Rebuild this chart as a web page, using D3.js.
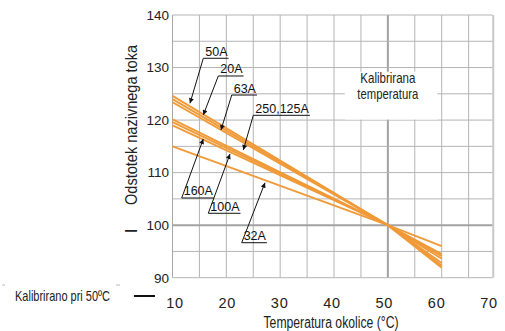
<!DOCTYPE html>
<html><head><meta charset="utf-8">
<script src="https://cdn.jsdelivr.net/npm/d3@7/dist/d3.min.js"></script>
<style>
html,body{margin:0;padding:0;background:#fff;}
svg{display:block;}
.cond{font-family:"Liberation Sans",Arial,sans-serif;}
.num{font-family:"Liberation Sans",Arial,sans-serif;}
</style></head>
<body>
<script>
// ---- data ----
const temps = [10, 50, 60];
const seriesNames = ["50A", "20A", "63A", "250,125A", "160A", "100A", "32A"];
const v50A  = [124.6, 100, 91.9];
const v20A  = [124.0, 100, 92.3];
const v63A  = [123.4, 100, 92.8];
const v250A = [120.15, 100, 93.6];
const v160A = [119.6, 100, 94.5];
const v100A = [119.0, 100, 94.1];
const v32A  = [115.0, 100, 96.0];
const seriesValues = [v50A, v20A, v63A, v250A, v160A, v100A, v32A];

const xTicks = [10, 20, 30, 40, 50, 60, 70];
const yTicks = [90, 100, 110, 120, 130, 140];

// annotation labels (data coordinates): underline anchor and arrow tip
const annLabels  = ["50A", "20A", "63A", "250,125A", "160A", "100A", "32A"];
const annAnchorX = [15.72, 18.51, 21.0, 25.01, 11.71, 16.65, 22.85];
const annAnchorY = [131.76, 128.39, 124.77, 120.91, 105.17, 102.26, 96.66];
const annTipX    = [13.25, 15.72, 19.01, 23.15, 15.72, 20.68, 27.18];
const annTipY    = [123.19, 120.97, 118.11, 114.31, 116.4, 113.54, 108.08];

const W = 505, H = 331;
const svg = d3.select("body").append("svg").attr("width", W).attr("height", H);

const x = d3.scaleLinear().domain([10, 60]).range([172.5, 441.7]);
const xLab = d3.scaleLinear().domain([10, 70]).range([175, 489]);
const y = d3.scaleLinear().domain([90, 140]).range([277.7, 15]);
const xRight = 69.48;

// grid
const g = svg.append("g");
const vGrid = d3.range(15, 70, 5);
g.selectAll("line.vg").data(vGrid).enter().append("line")
  .attr("x1", d => x(d)).attr("x2", d => x(d))
  .attr("y1", y(140)).attr("y2", y(90))
  .attr("stroke", d => d === 50 ? "#a2a2a4" : "#b4b4b6")
  .attr("stroke-width", d => d === 50 ? 2 : 1);
const hGrid = d3.range(95, 141, 5);
g.selectAll("line.hg").data(hGrid).enter().append("line")
  .attr("x1", x(10)).attr("x2", x(xRight))
  .attr("y1", d => y(d)).attr("y2", d => y(d))
  .attr("stroke", d => d === 100 ? "#a2a2a4" : "#b4b4b6")
  .attr("stroke-width", d => d === 100 ? 2 : 1);
// frame
g.append("line").attr("x1", x(10)).attr("x2", x(10)).attr("y1", y(140)).attr("y2", y(90))
  .attr("stroke", "#a8a8aa").attr("stroke-width", 1);
g.append("line").attr("x1", x(10)).attr("x2", x(xRight)).attr("y1", y(90)).attr("y2", y(90))
  .attr("stroke", "#b4b4b6").attr("stroke-width", 1);
g.append("line").attr("x1", x(xRight) + 0.5).attr("x2", x(xRight) + 0.5).attr("y1", y(140)).attr("y2", y(90))
  .attr("stroke", "#c8c8ca").attr("stroke-width", 2);

// condensed text helper: fits text into the measured width of the original
function condText(sel, width) {
  sel.attr("textLength", width).attr("lengthAdjust", "spacingAndGlyphs");
  return sel;
}

// white box for "Kalibrirana temperatura"
svg.append("rect").attr("x", x(42.0)).attr("y", y(129.2))
  .attr("width", x(59.2) - x(42.0)).attr("height", y(120.1) - y(129.2)).attr("fill", "#fff");
condText(svg.append("text").attr("class", "cond").attr("text-anchor", "middle")
  .attr("font-size", 15).attr("fill", "#222")
  .attr("x", x(50)).attr("y", y(127.1)).text("Kalibrirana"), 55);
condText(svg.append("text").attr("class", "cond").attr("text-anchor", "middle")
  .attr("font-size", 15).attr("fill", "#222")
  .attr("x", x(50)).attr("y", y(124.1)).text("temperatura"), 61);

// series lines
const line = d3.line().x((d, i) => x(temps[i])).y(d => y(d));
svg.selectAll("path.s").data(seriesValues).enter().append("path")
  .attr("d", d => line(d)).attr("fill", "none")
  .attr("stroke", "#f09a38").attr("stroke-width", 1.9);

// annotations
svg.append("defs").append("marker").attr("id", "arr")
  .attr("viewBox", "0 0 10 10").attr("refX", 10).attr("refY", 5)
  .attr("markerWidth", 9).attr("markerHeight", 5).attr("markerUnits", "userSpaceOnUse")
  .attr("orient", "auto")
  .append("path").attr("d", "M0,0L10,5L0,10Z").attr("fill", "#111");

annLabels.forEach((lab, i) => {
  const ax = x(annAnchorX[i]), ay = y(annAnchorY[i]);
  const t = svg.append("text").attr("class", "num").attr("font-size", 12.5)
    .attr("x", ax + 2).attr("y", ay - 2.5).attr("fill", "#111").text(lab);
  const w = t.node().getComputedTextLength();
  svg.append("line").attr("x1", ax).attr("x2", ax + w + 3).attr("y1", ay).attr("y2", ay)
    .attr("stroke", "#111").attr("stroke-width", 1);
  svg.append("line").attr("x1", ax).attr("y1", ay)
    .attr("x2", x(annTipX[i])).attr("y2", y(annTipY[i]))
    .attr("stroke", "#111").attr("stroke-width", 1).attr("marker-end", "url(#arr)");
});

// y tick labels
svg.selectAll("text.yt").data(yTicks).enter().append("text").attr("class", "num")
  .attr("x", 169).attr("y", d => y(d)).attr("dy", "0.36em").attr("text-anchor", "end")
  .attr("font-size", 13.5).attr("fill", "#222").text(d => d);

// x tick labels
svg.selectAll("text.xt").data(xTicks).enter().append("text").attr("class", "num")
  .attr("x", d => xLab(d)).attr("y", 307.5).attr("text-anchor", "middle")
  .attr("font-size", 14.5).attr("letter-spacing", "0.8px").attr("fill", "#222").text(d => d);

// axis titles
condText(svg.append("text").attr("class", "cond").attr("text-anchor", "middle")
  .attr("transform", "translate(136.5,125) rotate(-90)")
  .attr("font-size", 17).attr("fill", "#222").text("Odstotek nazivnega toka"), 160);
svg.append("text").attr("class", "cond").attr("text-anchor", "middle")
  .attr("transform", "translate(136.5,231) rotate(-90)")
  .attr("font-size", 17).attr("fill", "#222").text("I");
condText(svg.append("text").attr("class", "cond").attr("text-anchor", "middle")
  .attr("x", 331).attr("y", 328).attr("font-size", 16).attr("fill", "#222")
  .text("Temperatura okolice (°C)"), 135);

// calibration note
condText(svg.append("text").attr("class", "cond").attr("x", 15).attr("y", 300.5)
  .attr("font-size", 14.5).attr("fill", "#222").text("Kalibrirano pri 50ºC"), 95);
svg.append("line").attr("x1", 134).attr("x2", 155).attr("y1", 296).attr("y2", 296)
  .attr("stroke", "#111").attr("stroke-width", 2);
svg.append("line").attr("x1", 2).attr("x2", 5).attr("y1", 285).attr("y2", 285)
  .attr("stroke", "#bbb").attr("stroke-width", 1);
svg.append("line").attr("x1", 116).attr("x2", 120).attr("y1", 285).attr("y2", 285)
  .attr("stroke", "#bbb").attr("stroke-width", 1);
</script>
</body></html>
